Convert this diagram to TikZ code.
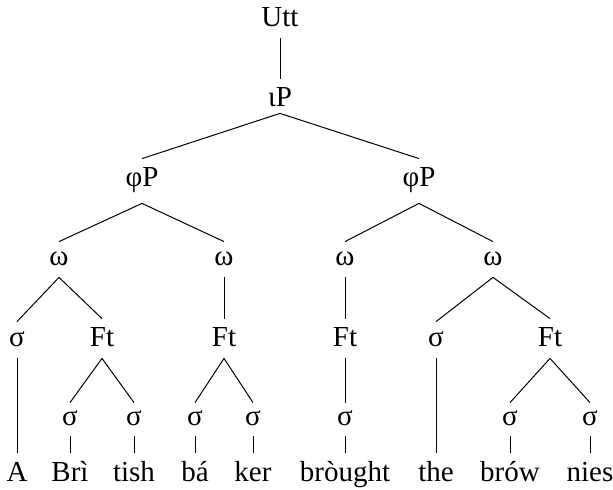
\documentclass[tikz,border=0pt]{standalone}
\usepackage{fontspec}
\setmainfont{Liberation Serif}
\begin{document}
\begin{tikzpicture}[x=0.5pt,y=-0.5pt,
  lbl/.style={anchor=base, inner sep=0pt, text height=14pt, text depth=5.5pt, font=\fontsize{14.5}{17}\selectfont},
  edge/.style={line width=0.5pt}]
\useasboundingbox (0,0) rectangle (613,490);
% level 0-2
\node[lbl] (utt) at (280,27) {Utt};
\node[lbl, text depth=3pt] (ip) at (280,107) {ιP};
\node[lbl, text depth=8pt] (phA) at (142,187) {φP};
\node[lbl, text depth=8pt] (phB) at (419,187) {φP};
% omega row
\node[lbl, text height=12pt] (wA) at (59,266) {ω};
\node[lbl, text height=12pt] (wB) at (224,266) {ω};
\node[lbl, text height=12pt] (wC) at (345,266) {ω};
\node[lbl, text height=12pt] (wD) at (493,266) {ω};
% Ft row
\node[lbl, text height=12.5pt] (sA) at (17,347) {σ};
\node[lbl] (ftA) at (102,347) {Ft};
\node[lbl] (ftB) at (224,347) {Ft};
\node[lbl] (ftC) at (345,347) {Ft};
\node[lbl, text height=12.5pt] (sE) at (436,347) {σ};
\node[lbl] (ftD) at (550,347) {Ft};
% sigma row
\node[lbl, text height=11pt] (s1) at (70,425) {σ};
\node[lbl, text height=11pt] (s2) at (134,425) {σ};
\node[lbl, text height=11pt] (s3) at (195,425) {σ};
\node[lbl, text height=11pt] (s4) at (253,425) {σ};
\node[lbl, text height=11pt] (s5) at (345,425) {σ};
\node[lbl, text height=11pt] (s6) at (510,425) {σ};
\node[lbl, text height=11pt] (s7) at (590,425) {σ};
% words
\node[lbl] (wdA) at (17,481) {A};
\node[lbl] (wd1) at (70,481) {Brì};
\node[lbl] (wd2) at (134,481) {tish};
\node[lbl] (wd3) at (195,481) {bá};
\node[lbl] (wd4) at (253,481) {ker};
\node[lbl] (wd5) at (345,481) {bròught};
\node[lbl] (wdE) at (436,481) {the};
\node[lbl] (wd6) at (510,481) {brów};
\node[lbl] (wd7) at (590,481) {nies};
% edges
\draw[edge] (utt.south) -- (ip.north);
\draw[edge] (ip.south) -- (phA.north);
\draw[edge] (ip.south) -- (phB.north);
\draw[edge] (phA.south) -- (wA.north);
\draw[edge] (phA.south) -- (wB.north);
\draw[edge] (phB.south) -- (wC.north);
\draw[edge] (phB.south) -- (wD.north);
\draw[edge] (wA.south) -- (sA.north);
\draw[edge] (wA.south) -- (ftA.north);
\draw[edge] (wB.south) -- (ftB.north);
\draw[edge] (wC.south) -- (ftC.north);
\draw[edge] (wD.south) -- (sE.north);
\draw[edge] (wD.south) -- (ftD.north);
\draw[edge] (ftA.south) -- (s1.north);
\draw[edge] (ftA.south) -- (s2.north);
\draw[edge] (ftB.south) -- (s3.north);
\draw[edge] (ftB.south) -- (s4.north);
\draw[edge] (ftC.south) -- (s5.north);
\draw[edge] (ftD.south) -- (s6.north);
\draw[edge] (ftD.south) -- (s7.north);
\draw[edge] (sA.south) -- (wdA.north);
\draw[edge] (sE.south) -- (wdE.north);
\draw[edge] (s1.south) -- (wd1.north);
\draw[edge] (s2.south) -- (wd2.north);
\draw[edge] (s3.south) -- (wd3.north);
\draw[edge] (s4.south) -- (wd4.north);
\draw[edge] (s5.south) -- (wd5.north);
\draw[edge] (s6.south) -- (wd6.north);
\draw[edge] (s7.south) -- (wd7.north);
\end{tikzpicture}
\end{document}
